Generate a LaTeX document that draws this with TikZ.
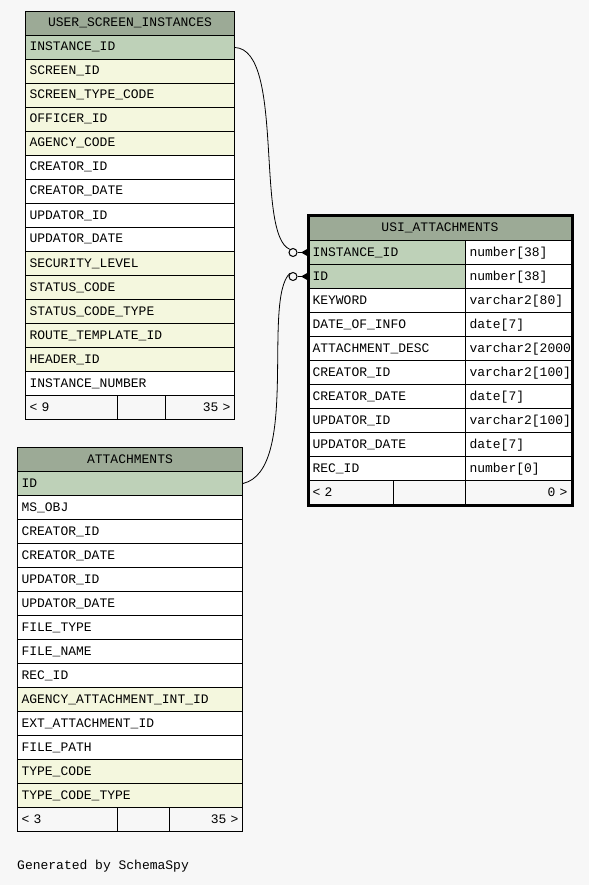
\documentclass[tikz,border=0pt]{standalone}
\usepackage{xcolor}
\usepackage{fontspec}
\setmonofont{Liberation Mono}
\usepackage{tikz}
\definecolor{pagebg}{HTML}{F7F7F7}
\definecolor{headbg}{HTML}{9CAA96}
\definecolor{keybg}{HTML}{BED1B8}
\definecolor{fkbg}{HTML}{F4F7DE}

\begin{document}
\begin{tikzpicture}[x=1pt,y=-1pt,
  font=\ttfamily\fontsize{13}{13}\selectfont,
  cell/.style={draw,line width=1pt,anchor=north west,minimum height=24pt,
    inner xsep=4pt,inner ysep=0pt,text height=9pt,text depth=2pt,
    text width=#1,align=left},
  headcell/.style={cell=#1,fill=headbg,align=center},
  footcell/.style={cell=#1,fill=pagebg},
  crowring/.style={draw,circle,line width=1pt,minimum size=8pt,inner sep=0pt,fill=pagebg}]
  \fill[pagebg] (0,0) rectangle (589,885);

  % USER_SCREEN_INSTANCES
  \node[headcell=201pt] (uso-h) at (25,11) {USER\_SCREEN\_INSTANCES};
  \foreach \name/\col [count=\i] in {INSTANCE\_ID/keybg, SCREEN\_ID/fkbg,
      SCREEN\_TYPE\_CODE/fkbg, OFFICER\_ID/fkbg, AGENCY\_CODE/fkbg,
      CREATOR\_ID/white, CREATOR\_DATE/white, UPDATOR\_ID/white,
      UPDATOR\_DATE/white, SECURITY\_LEVEL/fkbg, STATUS\_CODE/fkbg,
      STATUS\_CODE\_TYPE/fkbg, ROUTE\_TEMPLATE\_ID/fkbg, HEADER\_ID/fkbg,
      INSTANCE\_NUMBER/white}
    \node[cell=201pt,fill=\col] (uso-\i) at (25,{11+24*\i}) {\name};
  \node[footcell=84pt] (uso-f1) at (25,395) {< 9};
  \node[footcell=40pt] (uso-f2) at (117,395) {};
  \node[footcell=61pt,align=right] (uso-f3) at (165,395) {35 >};

  % ATTACHMENTS
  \node[headcell=217pt] (att-h) at (17,447) {ATTACHMENTS};
  \foreach \name/\col [count=\i] in {ID/keybg, MS\_OBJ/white,
      CREATOR\_ID/white, CREATOR\_DATE/white, UPDATOR\_ID/white,
      UPDATOR\_DATE/white, FILE\_TYPE/white, FILE\_NAME/white, REC\_ID/white,
      AGENCY\_ATTACHMENT\_INT\_ID/fkbg, EXT\_ATTACHMENT\_ID/white,
      FILE\_PATH/white, TYPE\_CODE/fkbg, TYPE\_CODE\_TYPE/fkbg}
    \node[cell=217pt,fill=\col] (att-\i) at (17,{447+24*\i}) {\name};
  \node[footcell=92pt] (att-f1) at (17,807) {< 3};
  \node[footcell=44pt] (att-f2) at (117,807) {};
  \node[footcell=65pt,align=right] (att-f3) at (169,807) {35 >};

  % USI_ATTACHMENTS
  \node[cell=255pt,fill=headbg,align=center] (usa-h) at (308,216) {USI\_ATTACHMENTS};
  \foreach \name/\type/\col [count=\i] in {INSTANCE\_ID/number[38]/keybg,
      ID/number[38]/keybg, KEYWORD/varchar2[80]/white,
      DATE\_OF\_INFO/date[7]/white, ATTACHMENT\_DESC/varchar2[2000/white,
      CREATOR\_ID/varchar2[100]/white, CREATOR\_DATE/date[7]/white,
      UPDATOR\_ID/varchar2[100]/white, UPDATOR\_DATE/date[7]/white,
      REC\_ID/number[0]/white}
  {
    \node[cell=149pt,fill=\col] (usa-\i) at (308,{216+24*\i}) {\name};
    \node[cell=98pt,fill=white] (usa-t\i) at (465,{216+24*\i}) {\type};
  }
  \node[footcell=77pt] (usa-f1) at (308,480) {< 2};
  \node[footcell=64pt] (usa-f2) at (393,480) {};
  \node[footcell=98pt,align=right] (usa-f3) at (465,480) {0 >};
  \draw[line width=3pt] (usa-h.north west) rectangle (usa-f3.south east);

  % relationships
  \node[crowring] (ring1) at ([xshift=-15pt]usa-1.west) {};
  \node[crowring] (ring2) at ([xshift=-15pt]usa-2.west) {};
  \draw[line width=0.8pt] (uso-1.east) .. controls (285,50) and (255,235) .. (ring1.north west);
  \draw[line width=0.8pt] (att-1.east) .. controls (300,470) and (262,300) .. (ring2.north west);
  \foreach \r in {1,2} {
    \draw[line width=1pt] (ring\r.east) -- (usa-\r.west);
    \fill ([xshift=-7pt]usa-\r.west) -- ([yshift=-4pt]usa-\r.west) -- ([yshift=4pt]usa-\r.west) -- cycle;
  }

  \node[anchor=west,inner sep=0pt] (gen) at (17,866) {Generated by SchemaSpy};
\end{tikzpicture}
\end{document}
